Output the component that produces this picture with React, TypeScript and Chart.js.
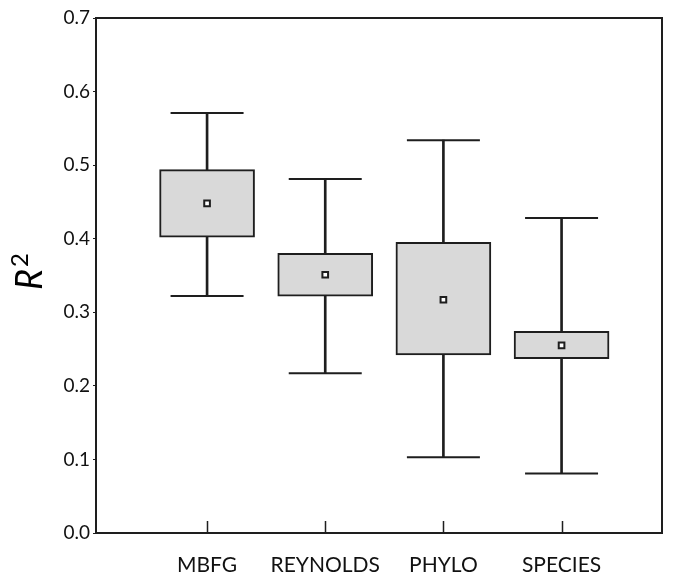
import React, { useEffect, useRef } from "react";
import { Chart, registerables } from "chart.js";

Chart.register(...registerables);

const categories = ["MBFG", "REYNOLDS", "PHYLO", "SPECIES"];
const whiskerLow = [0.322, 0.217, 0.103, 0.081];
const q1 = [0.402, 0.322, 0.242, 0.237];
const q3 = [0.494, 0.38, 0.395, 0.274];
const whiskerHigh = [0.571, 0.481, 0.534, 0.428];
const means = [0.448, 0.351, 0.317, 0.255];
const yTicks = [0, 0.1, 0.2, 0.3, 0.4, 0.5, 0.6, 0.7];
const yTitleMain = "R";
const yTitleSup = "2";

const FONT = "Lato";
const INK = "#1e1e1e";

const frameAndTicks = {
  id: "frameAndTicks",
  afterDatasetsDraw(chart: any) {
    const { ctx, chartArea } = chart;
    const xs = chart.scales.x;
    ctx.save();
    ctx.strokeStyle = INK;
    ctx.lineWidth = 2;
    ctx.strokeRect(chartArea.left, chartArea.top, chartArea.right - chartArea.left, chartArea.bottom - chartArea.top);
    ctx.beginPath();
    categories.forEach((_, i) => {
      const px = Math.round(xs.getPixelForValue(i + 1)) + 0.5;
      ctx.moveTo(px, chartArea.bottom);
      ctx.lineTo(px, chartArea.bottom - 12);
    });
    ctx.lineWidth = 1.5;
    ctx.stroke();
    ctx.restore();
  },
  afterDraw(chart: any) {
    const { ctx, chartArea } = chart;
    const cy = (chartArea.top + chartArea.bottom) / 2 - 4;
    ctx.save();
    ctx.translate(42, cy);
    ctx.rotate(-Math.PI / 2);
    ctx.fillStyle = "#000";
    ctx.textBaseline = "alphabetic";
    ctx.font = `italic 36px ${FONT}`;
    const wR = ctx.measureText(yTitleMain).width;
    ctx.font = `24px ${FONT}`;
    const w2 = ctx.measureText(yTitleSup).width;
    const total = wR + w2 + 2;
    const sx = -total / 2;
    ctx.font = `italic 36px ${FONT}`;
    ctx.fillText(yTitleMain, sx, 0);
    ctx.font = `24px ${FONT}`;
    ctx.fillText(yTitleSup, sx + wR + 2, -14);
    ctx.restore();
  },
};

export default function App() {
  const ref = useRef<HTMLCanvasElement>(null);
  useEffect(() => {
    if (!ref.current) return;
    const xs = categories.map((_, i) => i + 1);
    const chart = new Chart(ref.current, {
      type: "bar",
      data: {
        datasets: [
          {
            type: "scatter",
            label: "mean",
            data: xs.map((x, i) => ({ x, y: means[i] })),
            pointStyle: "rect",
            pointRadius: 4,
            backgroundColor: "#ffffff",
            borderColor: INK,
            borderWidth: 2,
            order: 0,
          } as any,
          {
            type: "bar",
            label: "box",
            data: xs.map((x, i) => ({ x, y: [q1[i], q3[i]] })),
            backgroundColor: "#d9d9d9",
            borderColor: INK,
            borderWidth: 2,
            borderSkipped: false,
            barThickness: 95,
            grouped: false,
            order: 1,
          } as any,
          {
            type: "bar",
            label: "whisker",
            data: xs.map((x, i) => ({ x, y: [whiskerLow[i], whiskerHigh[i]] })),
            backgroundColor: INK,
            borderWidth: 0,
            barThickness: 2,
            grouped: false,
            order: 2,
          } as any,
          {
            type: "scatter",
            label: "capHigh",
            data: xs.map((x, i) => ({ x, y: whiskerHigh[i] })),
            pointStyle: "line",
            pointRadius: 36.5,
            borderColor: INK,
            borderWidth: 2,
            order: 3,
          } as any,
          {
            type: "scatter",
            label: "capLow",
            data: xs.map((x, i) => ({ x, y: whiskerLow[i] })),
            pointStyle: "line",
            pointRadius: 36.5,
            borderColor: INK,
            borderWidth: 2,
            order: 3,
          } as any,
        ],
      },
      options: {
        responsive: false,
        animation: false,
        layout: { padding: { left: 8, top: 18, right: 13, bottom: 0 } },
        plugins: { legend: { display: false }, tooltip: { enabled: false } },
        scales: {
          x: {
            type: "linear",
            min: 0.06,
            max: 4.85,
            offset: false,
            afterBuildTicks: (scale: any) => {
              scale.ticks = xs.map((v) => ({ value: v }));
            },
            afterFit: (scale: any) => {
              scale.height = 41;
              scale.paddingLeft = 0;
              scale.paddingRight = 0;
            },
            grid: { display: false, drawTicks: false },
            border: { display: false },
            ticks: {
              autoSkip: false,
              maxRotation: 0,
              padding: 20,
              color: "#111",
              font: { family: FONT, size: 21 },
              callback: (v: any) => categories[Number(v) - 1] ?? "",
            },
          },
          y: {
            type: "linear",
            min: 0,
            max: 0.7,
            afterBuildTicks: (scale: any) => {
              scale.ticks = yTicks.map((v) => ({ value: v }));
            },
            afterFit: (scale: any) => {
              scale.width = 88;
              scale.paddingTop = 0;
              scale.paddingBottom = 0;
            },
            grid: { display: true, drawOnChartArea: false, drawTicks: true, tickLength: 3, color: INK, lineWidth: 1 },
            border: { display: false },
            ticks: {
              padding: 3,
              color: "#111",
              font: { family: FONT, size: 19 },
              callback: (v: any) => Number(v).toFixed(1),
            },
          },
        },
      },
      plugins: [frameAndTicks],
    } as any);
    // Cap markers are wide horizontal lines; stop them from reserving extra layout padding.
    chart.data.datasets.forEach((_: any, i: number) => {
      const meta: any = chart.getDatasetMeta(i);
      if (meta.controller && meta.type === "scatter") {
        meta.controller.getMaxOverflow = () => 0;
      }
    });
    chart.update();
    return () => chart.destroy();
  }, []);
  return (
    <div style={{ position: "fixed", left: 0, top: 0, width: 675, height: 574, background: "#fff" }}>
      <canvas ref={ref} width={675} height={574} style={{ display: "block" }} />
    </div>
  );
}
